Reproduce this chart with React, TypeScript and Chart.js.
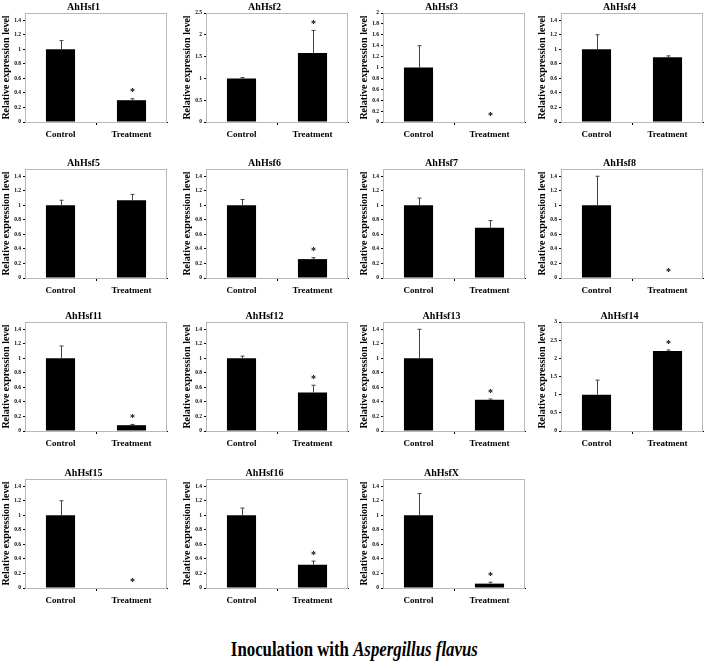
import React, { useEffect, useRef } from "react";
import { Chart, registerables } from "chart.js";

Chart.register(...registerables);

const categories = ["Control", "Treatment"];
const geneNames = ["AhHsf1", "AhHsf2", "AhHsf3", "AhHsf4", "AhHsf5", "AhHsf6", "AhHsf7", "AhHsf8", "AhHsf11", "AhHsf12", "AhHsf13", "AhHsf14", "AhHsf15", "AhHsf16", "AhHsfX"];
const controlValues = [1, 1, 1, 1, 1, 1, 1, 1, 1, 1, 1, 1, 1, 1, 1];
const controlErrors = [0.12, 0.02, 0.4, 0.2, 0.07, 0.08, 0.1, 0.4, 0.17, 0.03, 0.4, 0.4, 0.2, 0.1, 0.3];
const treatmentValues = [0.3, 1.58, 0, 0.89, 1.07, 0.26, 0.69, 0, 0.08, 0.53, 0.43, 2.2, 0, 0.32, 0.06];
const treatmentErrors = [0.02, 0.52, 0, 0.02, 0.08, 0.02, 0.1, 0, 0.01, 0.1, 0.01, 0.03, 0, 0.05, 0.02];
const significant = [true, true, true, false, false, true, false, true, true, true, true, true, true, true, true];
const yMaxValues = [1.5, 2.5, 2, 1.5, 1.5, 1.5, 1.5, 1.5, 1.5, 1.5, 1.5, 3, 1.5, 1.5, 1.5];
const yStepValues = [0.2, 0.5, 0.2, 0.2, 0.2, 0.2, 0.2, 0.2, 0.2, 0.2, 0.2, 0.5, 0.2, 0.2, 0.2];
const yAxisTitle = "Relative expression level";

const SERIF = '"Liberation Serif", "Times New Roman", serif';
const colLefts = [0, 181, 358, 536];
const rowTops = [0, 156, 309, 466];
const CANVAS_W = 170;
const CANVAS_H = 142;

const extrasPlugin = {
  id: "extras",
  beforeDatasetsDraw(chart: any) {
    const { ctx, chartArea } = chart;
    ctx.save();
    ctx.strokeStyle = "#b8b8b8";
    ctx.lineWidth = 1;
    ctx.strokeRect(chartArea.left + 0.5, chartArea.top + 0.5, chartArea.right - chartArea.left - 1, chartArea.bottom - chartArea.top);
    ctx.restore();
  },
  afterDatasetsDraw(chart: any, _args: any, opts: any) {
    const { ctx } = chart;
    const y = chart.scales.y;
    const meta = chart.getDatasetMeta(0);
    const vals: number[] = opts.values;
    const errs: number[] = opts.errors;
    ctx.save();
    meta.data.forEach((bar: any, i: number) => {
      const x = Math.round(bar.x) + 0.5;
      const yBase = y.getPixelForValue(vals[i]);
      const yTop = y.getPixelForValue(vals[i] + errs[i]);
      if (errs[i] > 0) {
        ctx.strokeStyle = "#444";
        ctx.lineWidth = 1;
        ctx.beginPath();
        ctx.moveTo(x, yBase);
        ctx.lineTo(x, yTop);
        ctx.moveTo(x - 2, yTop);
        ctx.lineTo(x + 2, yTop);
        ctx.stroke();
      }
      if (i === 1 && opts.star) {
        ctx.fillStyle = "#000";
        ctx.font = `bold 10px ${SERIF}`;
        ctx.textAlign = "center";
        ctx.textBaseline = "middle";
        ctx.fillText("*", x, yTop - 6);
      }
    });
    ctx.restore();
  },
};

function Panel({ index }: { index: number }) {
  const ref = useRef<HTMLCanvasElement>(null);
  useEffect(() => {
    const vals = [controlValues[index], treatmentValues[index]];
    const errs = [controlErrors[index], treatmentErrors[index]];
    const chart = new Chart(ref.current as HTMLCanvasElement, {
      type: "bar",
      data: {
        labels: categories,
        datasets: [
          {
            data: vals,
            backgroundColor: "#000",
            borderWidth: 0,
            barPercentage: 0.41,
            categoryPercentage: 1,
          },
        ],
      },
      plugins: [extrasPlugin],
      options: {
        animation: false,
        responsive: false,
        devicePixelRatio: 1,
        layout: { padding: { top: 0, right: 3, left: 0, bottom: 0 } },
        plugins: {
          legend: { display: false },
          tooltip: { enabled: false },
          title: {
            display: true,
            text: geneNames[index],
            color: "#000",
            font: { family: SERIF, size: 10, weight: "bold" },
            padding: { top: 1, bottom: 0 },
          },
          extras: { values: vals, errors: errs, star: significant[index] },
        } as any,
        scales: {
          x: {
            afterFit: (s: any) => {
              s.height = 20;
            },
            grid: {
              offset: true,
              drawOnChartArea: false,
              tickLength: 3,
              color: (c: any) => (c.index === 1 ? "#000" : "rgba(0,0,0,0)"),
            },
            border: { display: true, color: "#000", width: 1 },
            ticks: {
              color: "#000",
              padding: 4,
              maxRotation: 0,
              font: { family: SERIF, size: 9, weight: "bold" },
            },
          },
          y: {
            min: 0,
            max: yMaxValues[index],
            afterFit: (s: any) => {
              s.width = 25;
            },
            grid: { drawOnChartArea: false, tickLength: 2, color: "#000" },
            border: { display: true, color: "#000", width: 1 },
            title: {
              display: true,
              text: yAxisTitle,
              color: "#000",
              padding: 0,
              font: { family: SERIF, size: 10, weight: "bold" },
            },
            ticks: {
              stepSize: yStepValues[index],
              includeBounds: false,
              color: "#000",
              padding: 2,
              font: { family: SERIF, size: 5.5, weight: "bold" },
              callback: (v: any) => String(Math.round(Number(v) * 10) / 10),
            },
          },
        },
      } as any,
    });
    return () => chart.destroy();
  }, [index]);
  const col = index % 4;
  const row = Math.floor(index / 4);
  return (
    <div style={{ position: "absolute", left: colLefts[col], top: rowTops[row], width: CANVAS_W, height: CANVAS_H }}>
      <canvas ref={ref} width={CANVAS_W} height={CANVAS_H} style={{ width: CANVAS_W, height: CANVAS_H }} />
    </div>
  );
}

export default function App() {
  return (
    <div style={{ position: "absolute", left: 0, top: 0, width: 708, height: 668, background: "#fff", overflow: "hidden" }}>
      {geneNames.map((_, i) => (
        <Panel key={i} index={i} />
      ))}
      <div
        style={{
          position: "absolute",
          left: 0,
          width: 708,
          top: 637,
          textAlign: "center",
          fontFamily: SERIF,
          fontWeight: "bold",
          fontSize: 21,
          color: "#000",
        }}
      >
        <span style={{ display: "inline-block", transform: "scaleX(0.8)", transformOrigin: "center" }}>
          Inoculation with <i>Aspergillus flavus</i>
        </span>
      </div>
    </div>
  );
}
